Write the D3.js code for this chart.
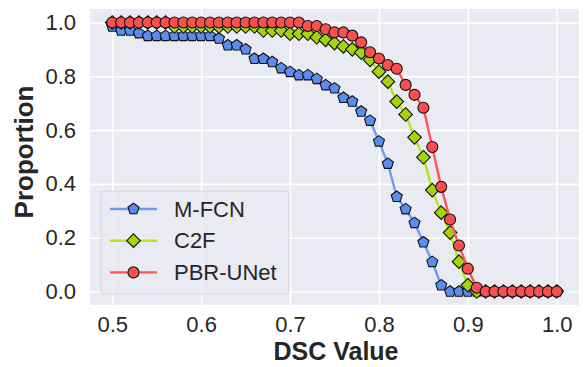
<!DOCTYPE html>
<html>
<head>
<meta charset="utf-8">
<script src="https://cdn.jsdelivr.net/npm/d3@7"></script>
<style>
  body { margin: 0; background: #fff; }
  text { font-family: "Liberation Sans", Arial, sans-serif; fill: #262626; }
</style>
</head>
<body>
<div id="chart"></div>
<script>
// DSC thresholds (x) and proportion of cases above each threshold
const dsc = [0.50,0.51,0.52,0.53,0.54,0.55,0.56,0.57,0.58,0.59,
             0.60,0.61,0.62,0.63,0.64,0.65,0.66,0.67,0.68,0.69,
             0.70,0.71,0.72,0.73,0.74,0.75,0.76,0.77,0.78,0.79,
             0.80,0.81,0.82,0.83,0.84,0.85,0.86,0.87,0.88,0.89,
             0.90,0.91,0.92,0.93,0.94,0.95,0.96,0.97,0.98,0.99,1.00];
const mfcn = [0.985,0.97,0.97,0.96,0.95,0.95,0.95,0.95,0.95,0.95,
              0.95,0.95,0.94,0.915,0.915,0.90,0.865,0.865,0.853,0.83,
              0.816,0.804,0.804,0.79,0.767,0.755,0.72,0.706,0.669,0.635,
              0.558,0.475,0.352,0.306,0.255,0.183,0.11,0.023,0,0,
              0,0,0,0,0,0,0,0,0,0,0];
const c2f = [1,1,1,1,1,1,1,0.985,0.985,0.985,
             0.985,0.985,0.985,0.985,0.985,0.985,0.985,0.97,0.97,0.97,
             0.958,0.958,0.958,0.945,0.935,0.923,0.911,0.90,0.888,0.861,
             0.817,0.78,0.706,0.658,0.573,0.499,0.377,0.293,0.219,0.111,
             0.024,0,0,0,0,0,0,0,0,0,0];
const pbr = [1,1,1,1,1,1,1,1,1,1,
             1,1,1,1,1,1,1,1,1,1,
             1,1,0.987,0.987,0.975,0.963,0.963,0.951,0.926,0.889,
             0.866,0.842,0.828,0.768,0.731,0.683,0.537,0.389,0.268,0.171,
             0.085,0.014,0,0,0,0,0,0,0,0,0];
const seriesNames = ["M-FCN", "C2F", "PBR-UNet"];
const xTicks = [0.5, 0.6, 0.7, 0.8, 0.9, 1.0];
const yTicks = [0.0, 0.2, 0.4, 0.6, 0.8, 1.0];

const W = 584, H = 367;
const margin = {left: 90, right: 5, top: 9, bottom: 62};

const svg = d3.select("#chart").append("svg").attr("width", W).attr("height", H);

const x = d3.scaleLinear().domain([0.475, 1.025]).range([margin.left, W - margin.right]);
const y = d3.scaleLinear().domain([-0.05, 1.05]).range([H - margin.bottom, margin.top]);

// background
svg.append("rect")
   .attr("x", margin.left).attr("y", margin.top)
   .attr("width", W - margin.left - margin.right)
   .attr("height", H - margin.top - margin.bottom)
   .attr("fill", "#eaeaf2");

// grid via axes
const xAxis = d3.axisBottom(x).tickValues(xTicks).tickFormat(d3.format(".1f"))
    .tickSize(-(H - margin.top - margin.bottom)).tickPadding(11);
const yAxis = d3.axisLeft(y).tickValues(yTicks).tickFormat(d3.format(".1f"))
    .tickSize(-(W - margin.left - margin.right)).tickPadding(14);

const gx = svg.append("g").attr("transform", "translate(0," + (H - margin.bottom) + ")").call(xAxis);
const gy = svg.append("g").attr("transform", "translate(" + margin.left + ",0)").call(yAxis);
[gx, gy].forEach(function(g) {
    g.select(".domain").remove();
    g.selectAll(".tick line").attr("stroke", "#fff").attr("stroke-width", 1.6);
    g.selectAll(".tick text").style("font-size", "22px").attr("fill", "#262626");
});

// axis labels
svg.append("text").attr("x", 336).attr("y", 360)
   .attr("text-anchor", "middle").style("font-size", "25px").style("font-weight", "bold")
   .text("DSC Value");
svg.append("text")
   .attr("transform", "translate(33,152) rotate(-90)")
   .attr("text-anchor", "middle").style("font-size", "26px").style("font-weight", "bold")
   .text("Proportion");

// marker shapes
function pentagon(r) {
    const pts = d3.range(5).map(function(i) {
        const a = -Math.PI / 2 + i * 2 * Math.PI / 5;
        return [r * Math.cos(a), r * Math.sin(a)];
    });
    return "M" + pts.map(function(p) { return p.join(","); }).join("L") + "Z";
}
function diamond(r) {
    return "M0," + (-r) + "L" + r + ",0L0," + r + "L" + (-r) + ",0Z";
}
function circle(r) {
    return "M" + r + ",0A" + r + "," + r + " 0 1,1 " + (-r) + ",0A" + r + "," + r + " 0 1,1 " + r + ",0Z";
}

const series = [
    {name: seriesNames[0], values: mfcn, line: "#6c9cf0", fill: "#5b8def", shape: pentagon(5.8)},
    {name: seriesNames[1], values: c2f,  line: "#b3e61e", fill: "#a4d40c", shape: diamond(6.8)},
    {name: seriesNames[2], values: pbr,  line: "#fd5656", fill: "#f84f4f", shape: circle(5.5)}
];

const lineGen = d3.line().x(function(d) { return x(d[0]); }).y(function(d) { return y(d[1]); });

series.forEach(function(s) {
    const pts = dsc.map(function(v, i) { return [v, s.values[i]]; });
    const g = svg.append("g");
    g.append("path").datum(pts).attr("d", lineGen)
     .attr("fill", "none").attr("stroke", s.line).attr("stroke-width", 2.4);
    g.selectAll("path.mk").data(pts).enter().append("path").attr("class", "mk")
     .attr("d", s.shape)
     .attr("transform", function(d) { return "translate(" + x(d[0]) + "," + y(d[1]) + ")"; })
     .attr("fill", s.fill).attr("stroke", "#111").attr("stroke-width", 1.1);
});

// legend
const lg = svg.append("g");
lg.append("rect").attr("x", 101).attr("y", 191).attr("width", 188).attr("height", 103)
  .attr("rx", 4).attr("fill", "#eaeaf2").attr("fill-opacity", 0.8)
  .attr("stroke", "#d4d4dc").attr("stroke-width", 1);
series.forEach(function(s, i) {
    const yy = 209 + i * 31.7;
    lg.append("line").attr("x1", 110).attr("x2", 157).attr("y1", yy).attr("y2", yy)
      .attr("stroke", s.line).attr("stroke-width", 2.4);
    lg.append("path").attr("d", s.shape).attr("transform", "translate(133.5," + yy + ")")
      .attr("fill", s.fill).attr("stroke", "#111").attr("stroke-width", 1.1);
    lg.append("text").attr("x", 174).attr("y", yy + 7.5).style("font-size", "22px").text(s.name);
});
</script>
</body>
</html>
